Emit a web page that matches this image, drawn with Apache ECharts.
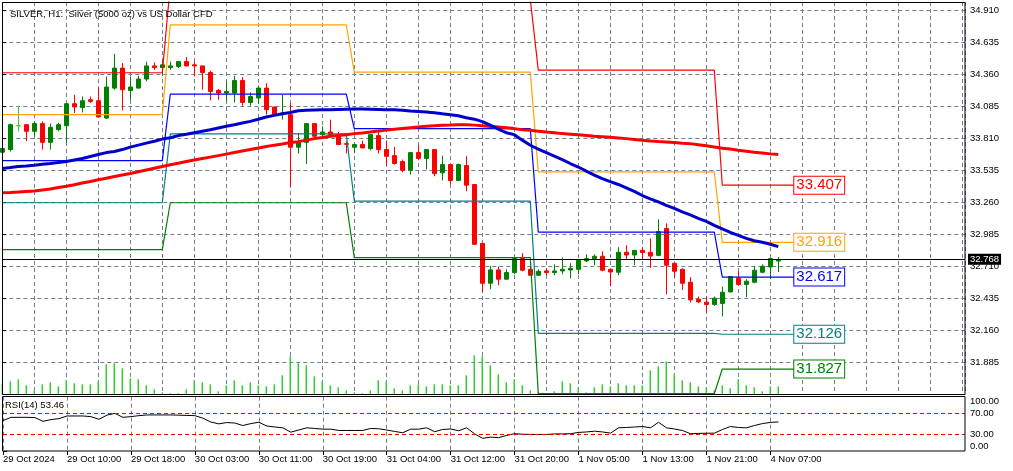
<!DOCTYPE html>
<html>
<head>
<meta charset="utf-8">
<title>SILVER H1</title>
<script src="https://cdn.jsdelivr.net/npm/echarts@6/dist/echarts.min.js"></script>
<style>
html, body { margin: 0; padding: 0; background: #fff; }
#chart { width: 1013px; height: 471px; }
</style>
</head>
<body>
<div id="chart"></div>
<script>
// 时间标签（每8根K线一个）
var timeLabels = ['29 Oct 2024', '29 Oct 10:00', '29 Oct 18:00', '30 Oct 03:00', '30 Oct 11:00',
    '30 Oct 19:00', '31 Oct 04:00', '31 Oct 12:00', '31 Oct 20:00', '1 Nov 05:00', '1 Nov 13:00',
    '1 Nov 21:00', '4 Nov 07:00'];

// H1 K线数据
var opens = [33.690, 33.713, 33.918, 33.927, 33.870, 33.936, 33.775, 33.884, 33.918, 34.107,
    34.075, 34.141, 34.133, 33.984, 34.241, 34.413, 34.221, 34.241, 34.319, 34.432,
    34.418, 34.418, 34.427, 34.469, 34.441, 34.432, 34.375, 34.221, 34.199, 34.199,
    34.307, 34.118, 34.156, 34.241, 34.079, 34.013, 34.013, 33.733, 33.775, 33.936,
    33.841, 33.864, 33.841, 33.764, 33.733, 33.756, 33.721, 33.833, 33.713, 33.661,
    33.610, 33.535, 33.687, 33.636, 33.713, 33.513, 33.584, 33.447, 33.576, 33.413,
    32.907, 32.564, 32.679, 32.599, 32.656, 32.776, 32.684, 32.633, 32.670, 32.656,
    32.670, 32.678, 32.684, 32.756, 32.776, 32.796, 32.684, 32.659, 32.830, 32.807,
    32.847, 32.830, 32.804, 33.036, 32.736, 32.684, 32.573, 32.427, 32.402, 32.382,
    32.391, 32.490, 32.607, 32.553, 32.573, 32.659, 32.704, 32.755];
var closes = [33.722, 33.927, 33.918, 33.870, 33.936, 33.775, 33.904, 33.927, 34.107, 34.079,
    34.133, 34.127, 33.993, 34.250, 34.413, 34.227, 34.250, 34.319, 34.432, 34.418,
    34.441, 34.432, 34.469, 34.432, 34.432, 34.375, 34.212, 34.199, 34.212, 34.307,
    34.118, 34.169, 34.241, 34.056, 34.013, 34.027, 33.733, 33.775, 33.936, 33.827,
    33.864, 33.841, 33.756, 33.758, 33.756, 33.727, 33.841, 33.713, 33.655, 33.593,
    33.535, 33.687, 33.636, 33.713, 33.507, 33.584, 33.447, 33.584, 33.407, 32.899,
    32.564, 32.679, 32.599, 32.656, 32.776, 32.676, 32.633, 32.667, 32.656, 32.670,
    32.684, 32.693, 32.762, 32.776, 32.796, 32.676, 32.661, 32.830, 32.807, 32.847,
    32.828, 32.798, 33.008, 32.719, 32.667, 32.564, 32.421, 32.404, 32.382, 32.436,
    32.487, 32.622, 32.553, 32.582, 32.676, 32.710, 32.776, 32.768];
var lows = [33.680, 33.696, 33.870, 33.784, 33.827, 33.713, 33.713, 33.870, 33.770, 34.027,
    34.032, 34.113, 33.993, 33.976, 34.227, 34.050, 34.141, 34.241, 34.298, 34.398,
    34.355, 34.398, 34.413, 34.427, 34.341, 34.227, 34.135, 34.141, 34.127, 34.118,
    34.090, 34.090, 34.107, 34.013, 34.013, 33.970, 33.398, 33.679, 33.590, 33.813,
    33.805, 33.827, 33.750, 33.679, 33.684, 33.727, 33.707, 33.679, 33.578, 33.584,
    33.518, 33.499, 33.621, 33.541, 33.484, 33.447, 33.413, 33.447, 33.355, 32.893,
    32.490, 32.513, 32.547, 32.599, 32.642, 32.667, 32.633, 32.627, 32.633, 32.633,
    32.642, 32.607, 32.642, 32.747, 32.719, 32.667, 32.541, 32.633, 32.770, 32.719,
    32.770, 32.696, 32.796, 32.470, 32.616, 32.507, 32.399, 32.393, 32.319, 32.370,
    32.279, 32.485, 32.547, 32.444, 32.564, 32.650, 32.599, 32.661];
var highs = [33.735, 33.936, 34.090, 33.927, 33.955, 33.955, 33.936, 33.942, 34.107, 34.184,
    34.169, 34.169, 34.241, 34.341, 34.535, 34.456, 34.341, 34.347, 34.469, 34.461,
    34.469, 34.469, 34.475, 34.507, 34.469, 34.432, 34.392, 34.233, 34.298, 34.347,
    34.336, 34.204, 34.261, 34.284, 34.079, 34.184, 34.113, 33.856, 33.936, 33.936,
    33.912, 33.970, 33.864, 33.784, 33.756, 33.790, 33.847, 33.870, 33.790, 33.736,
    33.627, 33.687, 33.747, 33.713, 33.713, 33.661, 33.584, 33.593, 33.655, 33.413,
    32.907, 32.713, 32.708, 32.684, 32.785, 32.822, 32.713, 32.684, 32.691, 32.727,
    32.785, 32.736, 32.770, 32.813, 32.813, 32.839, 32.684, 32.873, 32.890, 32.847,
    32.873, 32.950, 33.113, 33.079, 32.736, 32.693, 32.616, 32.450, 32.450, 32.450,
    32.536, 32.622, 32.667, 32.599, 32.713, 32.727, 32.776, 32.790];

// 成交量（tick volume，估读）
var volumes = [10, 13, 15, 9, 4, 10, 12, 8, 14, 11, 10, 10, 13, 30, 31, 26, 16, 15, 9, 5,
    2, 1, 1, 5, 14, 12, 10, 3, 9, 14, 9, 12, 9, 8, 10, 19, 38, 31, 29, 18,
    13, 9, 7, 4, 2, 1, 4, 14, 13, 6, 4, 9, 10, 8, 10, 10, 9, 9, 19, 39,
    38, 29, 20, 12, 15, 9, 4, 2, 1, 3, 13, 11, 7, 2, 7, 10, 8, 11, 9, 9,
    9, 24, 28, 33, 20, 14, 12, 8, 7, 4, 9, 6, 15, 9, 7, 3, 8, 8];

// 均线（蓝、红）
var maBlue = [33.550, 33.558, 33.567, 33.571, 33.578, 33.586, 33.593, 33.601, 33.610, 33.623,
    33.636, 33.653, 33.670, 33.687, 33.696, 33.713, 33.734, 33.751, 33.768, 33.785,
    33.803, 33.815, 33.833, 33.845, 33.858, 33.871, 33.884, 33.899, 33.914, 33.927,
    33.941, 33.955, 33.974, 33.993, 34.007, 34.021, 34.032, 34.047, 34.051, 34.053,
    34.055, 34.055, 34.058, 34.060, 34.061, 34.061, 34.060, 34.058, 34.055, 34.055,
    34.051, 34.044, 34.041, 34.036, 34.030, 34.021, 34.013, 34.004, 33.987, 33.974,
    33.953, 33.923, 33.888, 33.858, 33.841, 33.794, 33.750, 33.717, 33.687, 33.657,
    33.627, 33.593, 33.563, 33.528, 33.494, 33.464, 33.438, 33.413, 33.383, 33.353,
    33.318, 33.289, 33.263, 33.233, 33.207, 33.177, 33.151, 33.121, 33.096, 33.061,
    33.031, 33.001, 32.976, 32.950, 32.929, 32.916, 32.899, 32.879];
var maRed = [33.342, 33.344, 33.348, 33.353, 33.356, 33.366, 33.374, 33.387, 33.397, 33.410,
    33.425, 33.438, 33.453, 33.467, 33.481, 33.494, 33.507, 33.522, 33.537, 33.552,
    33.567, 33.582, 33.595, 33.610, 33.624, 33.636, 33.648, 33.661, 33.674, 33.687,
    33.700, 33.713, 33.727, 33.740, 33.751, 33.761, 33.773, 33.781, 33.794, 33.807,
    33.817, 33.828, 33.834, 33.841, 33.850, 33.856, 33.864, 33.873, 33.880, 33.887,
    33.894, 33.901, 33.908, 33.914, 33.918, 33.922, 33.924, 33.927, 33.927, 33.923,
    33.918, 33.912, 33.906, 33.900, 33.893, 33.884, 33.878, 33.871, 33.863, 33.857,
    33.850, 33.845, 33.840, 33.834, 33.828, 33.824, 33.818, 33.813, 33.807, 33.800,
    33.793, 33.787, 33.782, 33.778, 33.773, 33.768, 33.764, 33.755, 33.745, 33.735,
    33.725, 33.718, 33.708, 33.699, 33.690, 33.683, 33.676, 33.670];

// RSI(14)
var rsi = [56.0, 62.0, 62.0, 62.0, 61.5, 54.7, 57.8, 59.6, 64.5, 64.5,
    64.5, 63.3, 58.4, 66.0, 69.3, 62.0, 63.3, 65.1, 66.4, 66.4,
    66.4, 66.4, 66.0, 65.5, 65.1, 60.5, 53.3, 50.0, 52.4, 51.5,
    46.9, 50.5, 52.9, 46.0, 44.2, 42.7, 34.7, 38.7, 42.7, 41.5,
    40.2, 40.2, 37.8, 37.8, 37.8, 37.8, 41.5, 40.9, 38.7, 36.0,
    33.6, 40.2, 40.2, 42.7, 35.5, 39.6, 40.5, 37.3, 42.7, 31.5,
    23.3, 25.6, 24.5, 28.7, 31.8, 30.9, 30.5, 30.5, 30.5, 31.5,
    31.5, 31.8, 34.2, 35.1, 36.5, 35.1, 32.9, 42.7, 43.3, 44.2,
    45.1, 42.7, 52.9, 42.7, 40.5, 37.8, 31.8, 32.4, 32.7, 32.9,
    39.6, 45.1, 43.3, 42.7, 46.9, 50.5, 52.7, 53.46];

// 每日枢轴点（每天起始K线索引）
var dayStart = [0, 21, 44, 67, 90];
var pivotR2 = [34.373, 35.127, 35.002, 34.396, 33.407];
var pivotR1 = [34.013, 34.784, 34.379, 33.522, 32.916];
var pivotP = [33.618, 34.190, 33.893, 33.004, 32.617];
var pivotS1 = [33.256, 33.847, 33.270, 32.133, 32.126];
var pivotS2 = [32.853, 33.256, 32.785, 31.615, 31.827];

var FONT = 'Liberation Sans';
var LAST = 99; //枢轴线延伸到的位置
var XMAX = 120.34;
var GRID_LINE = { color: '#708090', type: [4, 3], width: 1 };

var chart = echarts.init(document.getElementById('chart'));

//封装枢轴线数据
function pivotData(levels) {
    var arr = [];
    for (var k = 0; k <= LAST; k++) {
        var d = 0;
        for (var j = 0; j < dayStart.length; j++) {
            if (k >= dayStart[j]) d = j;
        }
        arr.push([k, levels[d]]);
    }
    return arr;
}

function pivotSeries(name, levels, color) {
    return {
        name: name,
        type: 'line',
        xAxisIndex: 0,
        yAxisIndex: 0,
        data: pivotData(levels),
        symbol: 'none',
        z: 3,
        lineStyle: { color: color, width: 1.2 },
        endLabel: {
            show: true,
            distance: 0,
            formatter: function () { return levels[levels.length - 1].toFixed(3); },
            color: color,
            fontFamily: FONT,
            fontSize: 15,
            backgroundColor: '#fff',
            borderColor: color,
            borderWidth: 1,
            padding: [2, 2, 0, 2]
        }
    };
}

var candleData = [];
for (var i = 0; i < closes.length; i++) {
    var item = { value: [i, opens[i], closes[i], lows[i], highs[i]] };
    if (opens[i] === closes[i]) {
        item.itemStyle = { color: '#32cd32', color0: '#32cd32', borderColor: '#32cd32', borderColor0: '#32cd32' };
    }
    candleData.push(item);
}

var tickVals = [];
for (var t = 0; t < timeLabels.length; t++) tickVals.push(t * 8);

function withIndex(arr) {
    return arr.map(function (v, k) { return [k, v]; });
}

var lastPrice = closes[closes.length - 1];

var option = {
    animation: false,
    backgroundColor: '#fff',
    title: {
        text: 'SILVER, H1:  Silver (5000 oz) vs US Dollar CFD',
        left: 5,
        top: 4,
        textStyle: { color: '#000', fontFamily: FONT, fontSize: 9.5, fontWeight: 'normal' }
    },
    grid: [
        { left: 2.3, top: 2, width: 962.7, height: 392.3 },
        { left: 2.3, top: 294.3, width: 962.7, height: 100 },
        { left: 2.3, top: 396.7, width: 962.7, height: 54.3 }
    ],
    xAxis: [
        {
            gridIndex: 0, type: 'value', min: 0, max: XMAX, interval: 4,
            axisLine: { show: false }, axisTick: { show: false }, axisLabel: { show: false },
            splitLine: { show: true, lineStyle: GRID_LINE }
        },
        { gridIndex: 1, type: 'value', min: 0, max: XMAX, show: false },
        {
            gridIndex: 2, type: 'value', min: 0, max: XMAX, interval: 4,
            axisLine: { show: false },
            axisTick: { show: true, length: 4, customValues: tickVals, lineStyle: { color: '#000' } },
            axisLabel: {
                customValues: tickVals,
                align: 'left',
                margin: 3,
                color: '#000', fontFamily: FONT, fontSize: 9.5,
                formatter: function (v) { return timeLabels[Math.round(v / 8)] || ''; }
            },
            splitLine: { show: true, lineStyle: GRID_LINE }
        }
    ],
    yAxis: [
        {
            gridIndex: 0, type: 'value', position: 'right',
            min: 31.61, max: 34.981, interval: 0.275,
            axisLine: { show: false },
            axisTick: { show: true, length: 4, lineStyle: { color: '#000' } },
            axisLabel: {
                color: '#000', fontFamily: FONT, fontSize: 9.5, margin: 5,
                showMinLabel: false, showMaxLabel: false,
                formatter: function (v) { return v.toFixed(3); }
            },
            splitLine: { show: true, lineStyle: GRID_LINE }
        },
        { gridIndex: 1, type: 'value', min: 0, max: 100, show: false },
        {
            gridIndex: 2, type: 'value', position: 'right', min: 0, max: 100,
            axisLine: { show: false },
            axisTick: { show: true, length: 4, customValues: [0, 30, 70, 100], lineStyle: { color: '#000' } },
            axisLabel: {
                customValues: [0, 30, 70, 100],
                showMinLabel: true,
                showMaxLabel: true,
                hideOverlap: false,
                color: '#000', fontFamily: FONT, fontSize: 9.5, margin: 5,
                formatter: function (v) {
                    var s = v.toFixed(2);
                    if (v === 100) return '{t|' + s + '}';
                    if (v === 0) return '{b|' + s + '}';
                    return s;
                },
                rich: {
                    t: { padding: [10, 0, 0, 0], color: '#000', fontFamily: FONT, fontSize: 9.5 },
                    b: { padding: [0, 0, 9, 0], color: '#000', fontFamily: FONT, fontSize: 9.5 }
                }
            },
            splitLine: { show: false }
        }
    ],
    series: [
        {
            name: 'Volume',
            type: 'bar',
            xAxisIndex: 1,
            yAxisIndex: 1,
            data: withIndex(volumes),
            barWidth: 1.5,
            z: 1,
            itemStyle: { color: '#32cd32' }
        },
        {
            name: 'SILVER',
            type: 'candlestick',
            xAxisIndex: 0,
            yAxisIndex: 0,
            data: candleData,
            encode: { x: 0, y: [1, 2, 3, 4] },
            barWidth: 5,
            z: 2,
            itemStyle: {
                color: '#008000', color0: '#ff0000',
                borderColor: '#008000', borderColor0: '#ff0000', borderWidth: 1
            },
            markLine: {
                silent: true,
                symbol: ['none', 'none'],
                z: 10,
                lineStyle: { color: '#000', type: 'solid', width: 1 },
                label: {
                    position: 'end',
                    distance: 3,
                    formatter: function () { return lastPrice.toFixed(3); },
                    color: '#fff',
                    backgroundColor: '#000',
                    fontFamily: FONT,
                    fontSize: 9.5,
                    padding: [1, 2, 0, 2]
                },
                data: [{ yAxis: lastPrice }]
            }
        },
        pivotSeries('R2', pivotR2, '#ff0000'),
        pivotSeries('R1', pivotR1, '#ffa500'),
        pivotSeries('P', pivotP, '#0000ff'),
        pivotSeries('S1', pivotS1, '#008080'),
        pivotSeries('S2', pivotS2, '#008000'),
        {
            name: 'MA red',
            type: 'line',
            xAxisIndex: 0,
            yAxisIndex: 0,
            data: withIndex(maRed),
            symbol: 'none',
            z: 4,
            lineStyle: { color: '#ff0000', width: 3 }
        },
        {
            name: 'MA blue',
            type: 'line',
            xAxisIndex: 0,
            yAxisIndex: 0,
            data: withIndex(maBlue),
            symbol: 'none',
            z: 4,
            lineStyle: { color: '#0000cd', width: 3 }
        },
        {
            name: 'RSI',
            type: 'line',
            xAxisIndex: 2,
            yAxisIndex: 2,
            data: withIndex(rsi),
            symbol: 'none',
            lineStyle: { color: '#000', width: 1 },
            markLine: {
                silent: true,
                symbol: ['none', 'none'],
                label: { show: false },
                lineStyle: { color: '#ff0000', type: [4, 3], width: 1 },
                data: [{ yAxis: 70 }, { yAxis: 30 }]
            }
        }
    ],
    graphic: [
        {
            type: 'text', left: 5, top: 400, z: 20,
            style: { text: 'RSI(14) ' + rsi[rsi.length - 1].toFixed(2), fill: '#000', font: '9.5px "Liberation Sans"' }
        },
        {
            type: 'rect', z: 50, silent: true,
            shape: { x: 2.5, y: 2.5, width: 962.5, height: 392 },
            style: { fill: 'none', stroke: '#000', lineWidth: 1 }
        },
        {
            type: 'rect', z: 50, silent: true,
            shape: { x: 2.5, y: 396.5, width: 962.5, height: 54.5 },
            style: { fill: 'none', stroke: '#000', lineWidth: 1 }
        }
    ]
};

chart.setOption(option);
</script>
</body>
</html>
